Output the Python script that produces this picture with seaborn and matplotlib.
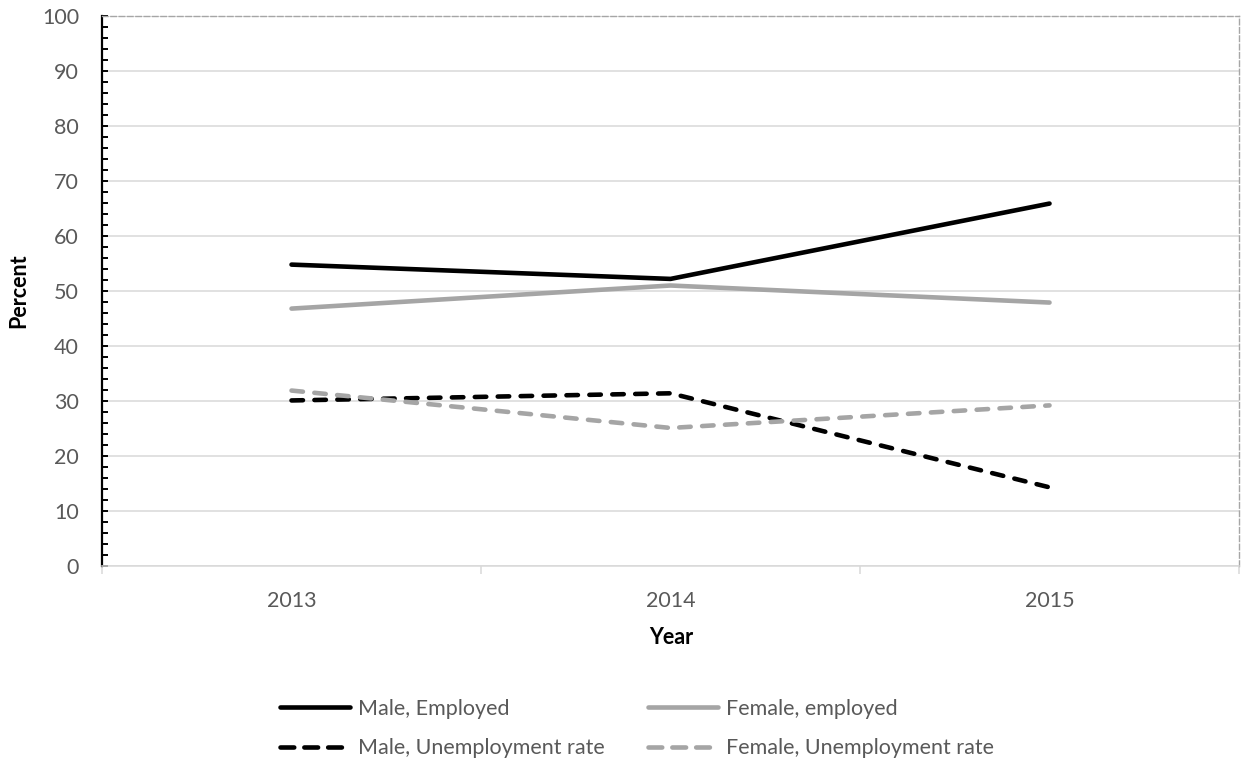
import matplotlib
matplotlib.use("Agg")
import matplotlib.pyplot as plt
from matplotlib.lines import Line2D
from matplotlib.ticker import MultipleLocator, FixedLocator, FixedFormatter, NullFormatter
import pandas as pd
import seaborn as sns

# Data
years = ["2013", "2014", "2015"]
male_employed = [54.8, 52.2, 65.9]
female_employed = [46.8, 51.0, 47.9]
male_unemployment = [30.1, 31.4, 14.3]
female_unemployment = [31.9, 25.1, 29.2]

series_names = ["Male, Employed", "Female, employed",
                "Male, Unemployment rate", "Female, Unemployment rate"]
series_values = [male_employed, female_employed, male_unemployment, female_unemployment]

BLACK = "#000000"
GREY = "#a5a5a5"
palette = {series_names[0]: BLACK, series_names[1]: GREY,
           series_names[2]: BLACK, series_names[3]: GREY}
DASH = (2.5, 2.5)
dashes = {series_names[0]: "", series_names[1]: "",
          series_names[2]: DASH, series_names[3]: DASH}

rows = []
for name, vals in zip(series_names, series_values):
    for i, (yr, v) in enumerate(zip(years, vals)):
        rows.append({"series": name, "pos": i, "year": yr, "value": v})
df = pd.DataFrame(rows)

sns.set_style("white")
plt.rcParams["font.family"] = ["Lato", "DejaVu Sans"]

TEXT = "#595959"
FS = 15.5
LW = 3.3

fig = plt.figure(figsize=(12.44, 7.66), dpi=100)
ax = fig.add_axes([0.082, 0.2611, 0.914, 0.718])

sns.lineplot(data=df, x="pos", y="value", hue="series", style="series",
             palette=palette, dashes=dashes, linewidth=LW, errorbar=None,
             sort=False, legend=False, ax=ax, zorder=3)
for ln in ax.lines:
    ln.set_solid_capstyle("round")
    ln.set_dash_capstyle("round")
    ln.set_solid_joinstyle("round")
    ln.set_dash_joinstyle("round")

# Axes ranges
ax.set_xlim(-0.5, len(years) - 0.5)
ax.set_ylim(0, 100)
ax.set_xlabel("")
ax.set_ylabel("")

# Horizontal gridlines
ax.yaxis.set_major_locator(MultipleLocator(10))
ax.yaxis.set_minor_locator(MultipleLocator(2))
ax.grid(axis="y", which="major", color="#d9d9d9", linewidth=1.1, zorder=0)
ax.grid(axis="x", visible=False)
ax.set_axisbelow(True)

# Y axis: black spine, inward major and minor ticks
ax.spines["left"].set_color(BLACK)
ax.spines["left"].set_linewidth(1.6)
ax.tick_params(axis="y", which="both", left=True, direction="in", length=4.5,
               width=1.4, color=BLACK)
ax.tick_params(axis="y", which="major", labelsize=FS, labelcolor=TEXT, pad=16.5)

# X axis: category boundary ticks, labels at category centres
ax.spines["bottom"].set_color("#d9d9d9")
ax.spines["bottom"].set_linewidth(1.1)
ax.xaxis.set_major_locator(FixedLocator([i - 0.5 for i in range(len(years) + 1)]))
ax.xaxis.set_major_formatter(NullFormatter())
ax.xaxis.set_minor_locator(FixedLocator(list(range(len(years)))))
ax.xaxis.set_minor_formatter(FixedFormatter(years))
ax.tick_params(axis="x", which="major", bottom=True, direction="out", length=6,
               width=1.1, color="#d9d9d9")
ax.tick_params(axis="x", which="minor", bottom=True, length=0, labelsize=FS,
               labelcolor=TEXT, pad=18)

# Dashed outer frame on top and right
for side in ("top", "right"):
    ax.spines[side].set_color("#a6a6a6")
    ax.spines[side].set_linewidth(1.0)
    ax.spines[side].set_linestyle((0, (4, 2)))

# Axis titles
fig.text(18.5 / 1244, 1 - 291 / 766, "Percent", rotation=90, ha="center",
         va="center", fontsize=FS, fontweight="bold", color=BLACK)
fig.text(671 / 1244, 1 - 637 / 766, "Year", ha="center", va="center",
         fontsize=FS, fontweight="bold", color=BLACK)

# Legend: two rows, two columns
LEGEND_DASH = (3.0, 2.2)
order = [0, 2, 1, 3]
handles = []
for k in order:
    h = Line2D([], [], color=palette[series_names[k]], linewidth=LW,
               solid_capstyle="round", dash_capstyle="round")
    if dashes[series_names[k]]:
        h.set_dashes(LEGEND_DASH)
    handles.append(h)
labels = [series_names[k] for k in order]
leg = fig.legend(handles, labels, ncol=2, loc="center",
                 bbox_to_anchor=(0.512, 0.049), frameon=False,
                 fontsize=FS, handlelength=3.25, handletextpad=0.37,
                 columnspacing=2.0, labelspacing=0.9)
for t in leg.get_texts():
    t.set_color(TEXT)

fig.savefig("out.png", dpi=100)
